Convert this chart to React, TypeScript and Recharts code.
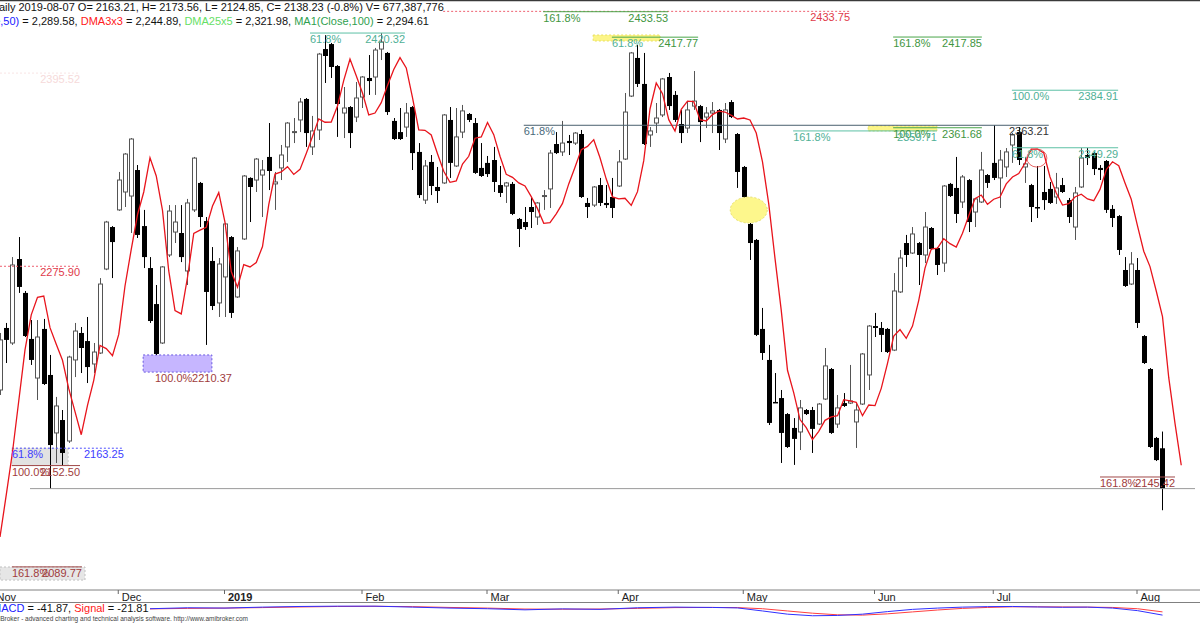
import React from "react";
import {
  ComposedChart,
  LineChart,
  Bar,
  Line,
  XAxis,
  YAxis,
  ReferenceLine,
  ReferenceArea,
  ReferenceDot,
} from "recharts";

// Daily bars, first visible bar (Nov 2018) .. 2019-08-07
const opens = [
  2199.3, 2237.7, 2228.4, 2280.4, 2259.4, 2230.9, 2206.7, 2237.1, 2208.6, 2172.7,
  2180.7, 2167.7, 2217.9, 2234.6, 2229.6, 2215.4, 2222.2, 2274.2, 2300.2, 2310.8,
  2321.9, 2319.4, 2335.5, 2300.8, 2274.8, 2252.5, 2228.4, 2282.9, 2297.1, 2296.5,
  2273.0, 2310.8, 2327.5, 2303.9, 2279.2, 2253.2, 2269.3, 2294.0, 2256.9, 2292.8,
  2330.6, 2329.3, 2332.4, 2343.6, 2326.9, 2336.8, 2349.8, 2359.0, 2366.5, 2379.5,
  2349.8, 2360.3, 2410.4, 2413.5, 2399.9, 2370.8, 2374.5, 2368.3, 2380.7, 2392.5,
  2393.1, 2410.4, 2408.0, 2365.9, 2359.0, 2362.1, 2374.5, 2346.7, 2316.9, 2340.5,
  2325.0, 2327.5, 2366.5, 2338.0, 2359.0, 2370.2, 2364.6, 2336.8, 2339.9, 2341.7,
  2326.2, 2325.6, 2326.9, 2305.2, 2303.3, 2312.6, 2306.4, 2319.4, 2323.8, 2351.6,
  2346.7, 2353.5, 2352.2, 2357.8, 2315.1, 2313.8, 2326.2, 2315.1, 2318.8, 2325.6,
  2342.3, 2381.3, 2404.9, 2388.8, 2357.2, 2364.6, 2369.6, 2393.1, 2382.0, 2364.0,
  2361.5, 2375.1, 2375.1, 2368.3, 2370.8, 2372.7, 2354.7, 2377.6, 2357.8, 2337.4,
  2302.1, 2292.2, 2237.1, 2217.9, 2191.9, 2194.3, 2184.4, 2175.8, 2173.3, 2186.9,
  2186.9, 2178.2, 2193.7, 2212.3, 2178.2, 2191.2, 2191.2, 2179.5, 2190.6, 2208.6,
  2238.9, 2237.7, 2237.1, 2224.0, 2260.0, 2290.3, 2284.1, 2290.3, 2282.9, 2299.6,
  2287.2, 2277.9, 2326.9, 2324.4, 2315.7, 2329.3, 2309.5, 2315.7, 2332.4, 2339.9,
  2330.6, 2337.4, 2351.0, 2359.0, 2337.4, 2326.2, 2312.6, 2321.9, 2323.8, 2318.8,
  2326.2, 2316.9, 2300.2, 2325.0, 2344.8, 2346.0, 2336.8, 2341.1, 2311.4, 2307.0,
  2273.6, 2264.9, 2273.6, 2232.7, 2212.3, 2169.6, 2163.21,
];
const highs = [
  2234.6, 2240.8, 2281.6, 2294.0, 2260.6, 2242.6, 2242.6, 2243.3, 2221.0, 2195.0,
  2186.9, 2220.5, 2240.8, 2238.3, 2244.5, 2228.4, 2268.6, 2304.0, 2300.8, 2334.3,
  2346.0, 2355.3, 2338.6, 2310.8, 2281.6, 2264.3, 2276.0, 2313.8, 2313.8, 2313.8,
  2317.6, 2343.6, 2328.1, 2306.4, 2287.8, 2281.0, 2302.7, 2294.6, 2287.8, 2332.4,
  2331.0, 2342.9, 2341.7, 2364.6, 2334.3, 2351.0, 2365.2, 2367.7, 2380.1, 2380.1,
  2369.0, 2408.0, 2419.0, 2414.2, 2400.5, 2386.9, 2375.1, 2390.0, 2393.7, 2406.7,
  2411.1, 2420.3, 2408.6, 2367.7, 2373.9, 2377.0, 2375.1, 2352.2, 2341.7, 2344.8,
  2337.4, 2370.2, 2374.5, 2373.9, 2375.8, 2370.8, 2367.7, 2352.2, 2344.2, 2349.8,
  2338.0, 2328.1, 2328.1, 2305.8, 2312.6, 2318.2, 2315.7, 2323.1, 2347.9, 2359.0,
  2365.9, 2357.2, 2359.0, 2360.3, 2318.2, 2325.6, 2330.6, 2326.2, 2330.6, 2347.9,
  2383.2, 2408.6, 2412.9, 2408.0, 2362.1, 2377.0, 2392.5, 2395.6, 2384.4, 2372.7,
  2378.2, 2396.8, 2375.8, 2374.5, 2377.6, 2373.3, 2377.0, 2378.8, 2358.4, 2338.0,
  2302.7, 2292.8, 2250.1, 2227.2, 2209.8, 2199.3, 2185.0, 2181.9, 2193.1, 2187.5,
  2188.8, 2191.2, 2225.3, 2212.9, 2196.2, 2197.4, 2214.8, 2191.2, 2222.2, 2239.5,
  2247.0, 2241.4, 2237.7, 2271.7, 2286.0, 2295.3, 2300.2, 2290.9, 2309.5, 2300.2,
  2287.8, 2326.2, 2327.5, 2343.6, 2332.4, 2329.9, 2318.2, 2346.7, 2333.0, 2363.21,
  2347.9, 2349.1, 2358.4, 2362.1, 2343.6, 2326.9, 2338.0, 2338.0, 2328.1, 2333.7,
  2330.6, 2318.2, 2325.0, 2349.1, 2349.1, 2346.7, 2338.6, 2341.7, 2313.8, 2307.6,
  2281.6, 2284.7, 2281.0, 2233.3, 2212.9, 2170.2, 2173.56,
];
const lows = [
  2196.2, 2216.0, 2227.2, 2259.4, 2232.1, 2214.8, 2193.1, 2202.4, 2138.0, 2154.1,
  2152.5, 2166.5, 2207.3, 2209.8, 2203.6, 2209.8, 2221.6, 2273.5, 2268.6, 2310.2,
  2312.6, 2296.5, 2293.4, 2274.8, 2240.8, 2221.0, 2227.8, 2281.6, 2290.3, 2278.5,
  2264.3, 2309.5, 2300.2, 2227.2, 2248.8, 2244.5, 2244.5, 2243.9, 2256.3, 2292.2,
  2303.3, 2321.9, 2306.4, 2323.1, 2310.8, 2329.3, 2340.5, 2352.2, 2359.0, 2349.8,
  2344.8, 2354.1, 2389.4, 2392.5, 2356.0, 2355.3, 2349.1, 2365.2, 2373.9, 2382.0,
  2382.0, 2403.6, 2369.6, 2354.1, 2354.1, 2356.0, 2335.5, 2318.2, 2314.5, 2320.0,
  2315.1, 2326.9, 2330.6, 2337.4, 2355.3, 2365.2, 2333.1, 2331.2, 2331.2, 2321.9,
  2318.8, 2315.1, 2307.6, 2287.8, 2298.4, 2299.6, 2301.5, 2310.8, 2312.0, 2345.4,
  2344.2, 2344.8, 2351.0, 2318.2, 2305.8, 2312.6, 2313.2, 2312.0, 2305.8, 2325.0,
  2341.7, 2380.7, 2386.9, 2351.0, 2349.8, 2358.4, 2368.3, 2372.7, 2365.2, 2352.2,
  2358.4, 2372.7, 2352.8, 2361.5, 2358.4, 2347.9, 2352.2, 2367.7, 2324.4, 2318.2,
  2279.8, 2232.7, 2217.9, 2177.6, 2191.3, 2154.1, 2163.4, 2152.9, 2162.1, 2183.8,
  2160.3, 2177.6, 2193.1, 2172.1, 2175.8, 2188.8, 2190.6, 2163.4, 2190.0, 2199.3,
  2232.1, 2222.8, 2222.2, 2223.4, 2259.4, 2275.5, 2283.5, 2264.3, 2277.9, 2286.0,
  2270.5, 2272.4, 2318.8, 2302.7, 2312.0, 2297.1, 2300.2, 2315.1, 2324.4, 2329.3,
  2312.0, 2331.2, 2339.9, 2338.6, 2327.5, 2303.3, 2305.8, 2310.8, 2314.5, 2314.5,
  2321.3, 2302.7, 2292.2, 2324.4, 2338.6, 2332.4, 2329.3, 2308.9, 2300.2, 2282.9,
  2263.1, 2264.3, 2237.7, 2215.4, 2163.4, 2155.3, 2124.85,
];
const closes = [
  2230.3, 2230.3, 2276.7, 2263.1, 2232.7, 2217.9, 2232.1, 2203.0, 2165.2, 2189.4,
  2160.3, 2219.7, 2235.8, 2225.3, 2213.5, 2222.8, 2264.9, 2303.3, 2290.9, 2329.3,
  2345.4, 2354.7, 2295.3, 2281.6, 2242.0, 2221.6, 2275.5, 2310.1, 2303.3, 2281.6,
  2315.1, 2342.9, 2306.4, 2260.0, 2251.3, 2277.3, 2302.1, 2247.0, 2285.4, 2331.8,
  2325.0, 2342.3, 2335.5, 2334.9, 2328.1, 2344.8, 2364.6, 2359.3, 2377.6, 2358.4,
  2359.7, 2407.3, 2406.1, 2399.3, 2376.4, 2373.9, 2358.4, 2380.1, 2393.1, 2390.6,
  2409.8, 2414.8, 2371.4, 2354.7, 2354.7, 2370.8, 2346.0, 2320.0, 2338.0, 2325.6,
  2322.5, 2369.6, 2339.9, 2356.0, 2372.1, 2366.5, 2333.7, 2331.8, 2333.0, 2328.1,
  2321.3, 2327.5, 2308.3, 2299.0, 2300.2, 2309.5, 2315.1, 2319.7, 2346.0, 2346.0,
  2352.2, 2352.2, 2358.4, 2318.8, 2312.6, 2325.0, 2315.1, 2313.8, 2312.0, 2340.5,
  2371.4, 2408.0, 2388.8, 2351.6, 2359.7, 2367.7, 2391.9, 2375.1, 2366.5, 2358.4,
  2372.7, 2378.2, 2365.2, 2370.8, 2372.1, 2358.4, 2372.7, 2368.3, 2334.3, 2318.8,
  2290.3, 2233.4, 2222.2, 2178.9, 2191.3, 2172.7, 2164.0, 2169.0, 2188.2, 2184.4,
  2175.2, 2190.6, 2214.2, 2172.7, 2188.2, 2189.4, 2192.5, 2186.9, 2221.6, 2238.9,
  2237.7, 2233.4, 2222.8, 2260.6, 2281.0, 2282.9, 2295.9, 2282.9, 2300.2, 2286.6,
  2276.7, 2325.6, 2319.4, 2308.3, 2331.2, 2303.3, 2317.6, 2335.5, 2327.5, 2330.6,
  2341.7, 2346.7, 2357.2, 2341.7, 2339.3, 2312.6, 2312.0, 2316.9, 2315.1, 2324.4,
  2321.9, 2306.4, 2321.3, 2342.9, 2342.9, 2336.1, 2335.5, 2310.8, 2305.8, 2286.0,
  2263.7, 2277.3, 2240.8, 2216.0, 2164.0, 2155.9, 2138.23,
];

// red DMA3x3 line (shifted 3 bars forward, so it runs 3 bars past the last candle)
const dma3x3 = [
  2108.3, 2134.3, 2160.9, 2192.5, 2224.1,
  2245.8, 2256.7, 2257.5, 2237.9, 2227.6, 2217.7, 2200.1, 2185.9, 2171.6, 2189.8,
  2205.3, 2226.9, 2224.9, 2220.5, 2233.7, 2263.7, 2286.4, 2307.8, 2321.9, 2343.1,
  2331.8, 2310.5, 2273.0, 2248.4, 2246.4, 2269.1, 2296.3, 2298.3, 2300.0, 2313.2,
  2321.5, 2303.1, 2272.6, 2262.9, 2276.9, 2275.5, 2278.2, 2288.1, 2314.1, 2333.0,
  2334.3, 2337.6, 2332.8, 2335.9, 2345.8, 2356.2, 2367.2, 2365.1, 2365.2, 2375.1,
  2391.0, 2404.2, 2393.9, 2383.2, 2369.6, 2370.8, 2377.2, 2387.9, 2397.8, 2405.1,
  2398.7, 2380.3, 2360.3, 2360.1, 2357.2, 2345.6, 2334.7, 2327.9, 2328.7, 2339.2,
  2344.0, 2355.2, 2356.0, 2364.9, 2357.4, 2344.0, 2332.8, 2331.0, 2327.5, 2325.6,
  2319.0, 2311.6, 2302.5, 2302.9, 2308.3, 2314.8, 2326.9, 2337.2, 2348.1, 2350.1,
  2354.3, 2343.1, 2329.9, 2318.8, 2317.6, 2318.0, 2313.6, 2322.1, 2341.3, 2373.3,
  2389.4, 2382.8, 2366.7, 2359.7, 2373.1, 2378.2, 2377.8, 2366.7, 2365.9, 2369.8,
  2372.0, 2371.4, 2369.4, 2367.1, 2367.7, 2366.5, 2358.4, 2340.5, 2314.5, 2280.8,
  2248.6, 2211.5, 2197.5, 2181.0, 2176.0, 2168.6, 2173.7, 2180.5, 2182.6, 2183.4,
  2193.3, 2192.5, 2191.7, 2183.4, 2190.0, 2189.6, 2200.3, 2215.8, 2232.7, 2236.7,
  2231.3, 2238.9, 2254.8, 2274.8, 2286.6, 2287.2, 2293.0, 2289.9, 2287.8, 2296.3,
  2307.2, 2317.8, 2320.0, 2314.3, 2317.4, 2318.8, 2326.9, 2331.2, 2333.3, 2339.7,
  2348.5, 2348.5, 2346.1, 2331.2, 2321.3, 2313.8, 2314.7, 2318.8, 2320.5, 2317.6,
  2316.5, 2323.5, 2335.7, 2340.6, 2338.2, 2327.5, 2317.4, 2300.9, 2285.2, 2275.7,
  2260.6, 2244.7, 2206.9, 2178.6, 2152.7,
];

// first bar of each month (bar index)
const monthTicks = [19, 36, 58, 78, 99, 119, 140, 159, 182];
const monthLabels = ["Dec", "2019", "Feb", "Mar", "Apr", "May", "Jun", "Jul", "Aug"];

// MACD pane, read at every few bars
const macdIdx = [24, 30, 36, 42, 48, 54, 60, 66, 72, 78, 84, 90, 96, 102, 108, 114, 118, 122, 126, 130, 134, 138, 142, 146, 150, 154, 158, 162, 166, 170, 174, 178, 182, 186];
const macdVals = [-2, 4, 2, 8, 12, 14, 14, 8, 2, -2, -9, -3, -6, 4, 8, 6, 3, -16, -36, -46, -44, -36, -20, -6, 2, 8, 11, 12, 9, 7, 8, 2, -14, -41.87];
const signalVals = [-3, 0, 2, 5, 9, 12, 13, 11, 6, 2, -4, -5, -4, 0, 5, 6, 5, -2, -16, -30, -40, -42, -34, -22, -10, 0, 6, 10, 10, 9, 8, 6, -2, -21.81];

// fibonacci / level annotations (from/to in bar index)
const fibLevels = [
  { pct: "", value: 2433.75, from: 70.9, to: 136.0, kind: "red" },
  { pct: "161.8%", value: 2433.53, from: 86.9, to: 106.9, kind: "green" },
  { pct: "61.8%", value: 2420.32, from: 49.6, to: 64.8, kind: "teal" },
  { pct: "61.8%", value: 2417.77, from: 97.9, to: 111.7, kind: "tealgreen" },
  { pct: "161.8%", value: 2417.85, from: 142.9, to: 157.1, kind: "green" },
  { pct: "", value: 2395.52, from: 0, to: 12.8, kind: "faint" },
  { pct: "100.0%", value: 2384.91, from: 161.9, to: 178.9, kind: "teal" },
  { pct: "61.8%", value: 2363.21, from: 83.8, to: 167.8, kind: "slate" },
  { pct: "161.8%", value: 2359.71, from: 126.9, to: 149.9, kind: "teal" },
  { pct: "100.0%", value: 2361.68, from: 142.9, to: 157.1, kind: "green" },
  { pct: "61.8%", value: 2349.29, from: 161.9, to: 178.9, kind: "teal" },
  { pct: "", value: 2275.9, from: 0, to: 12.8, kind: "red" },
  { pct: "100.0%", value: 2210.37, from: 24.8, to: 37.1, kind: "darkredText" },
  { pct: "61.8%", value: 2163.25, from: 1.9, to: 19.8, kind: "blue" },
  { pct: "100.0%", value: 2152.5, from: 1.9, to: 12.8, kind: "darkred" },
  { pct: "161.8%", value: 2145.42, from: 176, to: 188, kind: "darkred" },
  { pct: "161.8%", value: 2089.77, from: 1.9, to: 13.1, kind: "darkred" },
];

const STYLES: Record<string, { line: string; dash?: string; pct: string; val: string; hide?: boolean }> = {
  red: { line: "#ee6070", dash: "2 2", pct: "#e03a4a", val: "#e03a4a" },
  green: { line: "#4aa64a", pct: "#3f963f", val: "#3f963f" },
  teal: { line: "#5cc0a5", pct: "#4fb096", val: "#4fb096" },
  tealgreen: { line: "#4aa64a", pct: "#4fb096", val: "#3f963f" },
  faint: { line: "#f8e4e4", dash: "2 2", pct: "#f6dada", val: "#f6dada" },
  slate: { line: "#4a5f6e", pct: "#4a6a7a", val: "#333" },
  darkred: { line: "#a04848", pct: "#a03c3c", val: "#a03c3c" },
  darkredText: { line: "#a04848", pct: "#a03c3c", val: "#a03c3c", hide: true },
  blue: { line: "#5050ff", dash: "2 2", pct: "#4040ff", val: "#4040ff" },
};

const PRICE_MIN = 2075.45;
const PRICE_MAX = 2440.78;
const FONT = "'Liberation Sans', Arial, sans-serif";

const rows = dma3x3.map((d, i) => ({
  i,
  range: i < closes.length ? [lows[i], highs[i]] : null,
  open: opens[i],
  high: highs[i],
  low: lows[i],
  close: closes[i],
  dma: d,
}));

const macdRows = macdIdx.map((i, k) => ({ i, macd: macdVals[k], signal: signalVals[k] }));

function Candle(props: any) {
  const { x, y, width, height, payload } = props;
  if (!payload || payload.open == null || x == null || y == null) return null;
  const { open, close, high, low } = payload;
  const cx = Math.floor(x + width / 2) + 0.5;
  const span = high - low || 1;
  const py = (v: number) => y + ((high - v) / span) * height;
  const top = py(Math.max(open, close));
  const bot = py(Math.min(open, close));
  if (close >= open) {
    return (
      <g>
        <line x1={cx} x2={cx} y1={y} y2={y + height} stroke="#555" />
        <rect x={cx - 2} y={top} width={4} height={Math.max(bot - top, 1)} fill="#fff" stroke="#555" />
      </g>
    );
  }
  return (
    <g>
      <line x1={cx} x2={cx} y1={y} y2={y + height} stroke="#000" />
      <rect x={cx - 2.5} y={top} width={5} height={Math.max(bot - top, 1.5)} fill="#000" />
    </g>
  );
}

function MonthTick({ x, y, payload }: any) {
  const label = monthLabels[monthTicks.indexOf(payload.value)];
  return (
    <g>
      <line x1={x - 0.5} x2={x - 0.5} y1={y} y2={y + 4} stroke="#666" />
      <text
        x={x + 3}
        y={y + 11}
        fontSize={11}
        fontFamily={FONT}
        fontWeight={label === "2019" ? "bold" : "normal"}
        fill="#222"
      >
        {label}
      </text>
    </g>
  );
}

function textDot(txt: string, color: string, anchor: "start" | "end", size = 11) {
  return (p: any) => (
    <text x={p.cx} y={p.cy + 10} fontSize={size} fontFamily={FONT} fill={color} textAnchor={anchor}>
      {txt}
    </text>
  );
}

export default function App() {
  return (
    <div
      style={{
        position: "relative",
        width: 1200,
        height: 630,
        overflow: "hidden",
        background: "#fff",
        fontFamily: FONT,
      }}
    >
      <style>{"body{margin:0}"}</style>

      <div style={{ position: "absolute", left: 0, top: 0 }}>
        <ComposedChart width={1200} height={603} data={rows} margin={{ top: 0, right: 0, bottom: 0, left: 0 }}>
          <XAxis
            dataKey="i"
            type="number"
            domain={[0, 192]}
            ticks={monthTicks}
            interval={0}
            height={13}
            tickLine={false}
            tickSize={0}
            tickMargin={0}
            axisLine={{ stroke: "#808080" }}
            tick={<MonthTick />}
            allowDataOverflow
          />
          <YAxis hide type="number" domain={[PRICE_MIN, PRICE_MAX]} allowDataOverflow />

          {/* boxes */}
          <ReferenceArea x1={94.9} x2={105.6} y1={2415.4} y2={2419.1} fill="#fbf36a" fillOpacity={0.8} stroke="#e8e060" strokeDasharray="2 2" />
          <ReferenceArea x1={138.9} x2={149.9} y1={2359.7} y2={2362.8} fill="#fbf36a" fillOpacity={0.8} stroke="#e8e060" strokeDasharray="2 2" />
          <ReferenceArea x1={22.9} x2={33.9} y1={2210.37} y2={2221.0} fill="#c6b6ff" fillOpacity={1} stroke="#6a5ae0" strokeDasharray="2 2" />
          <ReferenceArea x1={1.9} x2={10.9} y1={2152.5} y2={2163.25} fill="#e2e2e2" fillOpacity={1} stroke="#c8c8c8" strokeDasharray="2 2" />
          <ReferenceArea x1={0} x2={13.6} y1={2081.6} y2={2089.7} fill="#e6e6e6" fillOpacity={1} stroke="#c0c0c0" strokeDasharray="2 2" />

          {/* long horizontal at last close */}
          <ReferenceLine segment={[{ x: 4.8, y: 2138.23 }, { x: 191.2, y: 2138.23 }]} stroke="#9a9a9a" />

          {fibLevels
            .filter((f) => !STYLES[f.kind].hide)
            .map((f, k) => (
              <ReferenceLine
                key={"l" + k}
                segment={[{ x: f.from, y: f.value }, { x: f.to, y: f.value }]}
                stroke={STYLES[f.kind].line}
                strokeDasharray={STYLES[f.kind].dash}
              />
            ))}

          {/* yellow gap marker and red circle */}
          <ReferenceDot
            x={119.8}
            y={2310.75}
            r={0}
            shape={(p: any) => (
              <ellipse cx={p.cx} cy={p.cy} rx={18.5} ry={13} fill="#fdf78c" stroke="#e6df70" strokeDasharray="2 2" />
            )}
          />
          <ReferenceDot
            x={165.9}
            y={2342.9}
            r={0}
            shape={(p: any) => <ellipse cx={p.cx} cy={p.cy} rx={10} ry={9} fill="none" stroke="#e04040" strokeOpacity={0.8} />}
          />

          <Bar dataKey="range" barSize={5} shape={<Candle />} isAnimationActive={false} />
          <Line
            dataKey="dma"
            type="linear"
            stroke="#e8141c"
            strokeWidth={1.3}
            dot={false}
            activeDot={false}
            isAnimationActive={false}
          />

          {fibLevels.map((f, k) =>
            f.pct ? (
              <ReferenceDot key={"p" + k} x={f.from} y={f.value} r={0} shape={textDot(f.pct, STYLES[f.kind].pct, "start")} />
            ) : null
          )}
          {fibLevels.map((f, k) => (
            <ReferenceDot
              key={"v" + k}
              x={f.to}
              y={f.value}
              r={0}
              shape={textDot(f.value.toFixed(2), STYLES[f.kind].val, "end")}
            />
          ))}
        </ComposedChart>
      </div>

      {/* MACD pane */}
      <div style={{ position: "absolute", left: 0, top: 602 }}>
        <LineChart width={1200} height={16} data={macdRows} margin={{ top: 0, right: 0, bottom: 0, left: 0 }}>
          <XAxis hide dataKey="i" type="number" domain={[0, 192]} />
          <YAxis hide type="number" domain={[-60, 40]} allowDataOverflow />
          <Line dataKey="signal" type="linear" stroke="#ff4040" strokeWidth={1} dot={false} isAnimationActive={false} />
          <Line dataKey="macd" type="linear" stroke="#3030ff" strokeWidth={1} dot={false} isAnimationActive={false} />
        </LineChart>
      </div>

      <svg width={1200} height={630} style={{ position: "absolute", left: 0, top: 0, pointerEvents: "none" }}>
        <line x1={0} x2={1200} y1={0.5} y2={0.5} stroke="#3a3a3a" strokeWidth={1.5} />
        <text x={-9} y={11} fontSize={11} fontFamily={FONT} fill="#111">
          Daily 2019-08-07 O= 2163.21, H= 2173.56, L= 2124.85, C= 2138.23 (-0.8%) V= 677,387,776
        </text>
        <text x={-48} y={25} fontSize={11} fontFamily={FONT} fill="#111">
          <tspan fill="#2020ff">MA(Close,50)</tspan>
          <tspan> = 2,289.58, </tspan>
          <tspan fill="#ff2020">DMA3x3</tspan>
          <tspan> = 2,244.89, </tspan>
          <tspan fill="#66e066">DMA25x5</tspan>
          <tspan> = 2,321.98, </tspan>
          <tspan fill="#2f9f4f">MA1(Close,100)</tspan>
          <tspan> = 2,294.61</tspan>
        </text>

        <line x1={-6} x2={-6} y1={590} y2={594} stroke="#666" />
        <text x={-3.5} y={601} fontSize={11} fontFamily={FONT} fill="#222">
          Nov
        </text>
        <line x1={0} x2={1200} y1={602.5} y2={602.5} stroke="#808080" />

        <text x={-8} y={612} fontSize={11} fontFamily={FONT} fill="#111">
          <tspan fill="#2020ff">MACD</tspan>
          <tspan> = -41.87, </tspan>
          <tspan fill="#ff2020">Signal</tspan>
          <tspan> = -21.81</tspan>
        </text>
        <text x={-11} y={621} fontSize={6.5} fontFamily={FONT} fill="#444">
          AmiBroker - advanced charting and technical analysis software. http://www.amibroker.com
        </text>
      </svg>
    </div>
  );
}
